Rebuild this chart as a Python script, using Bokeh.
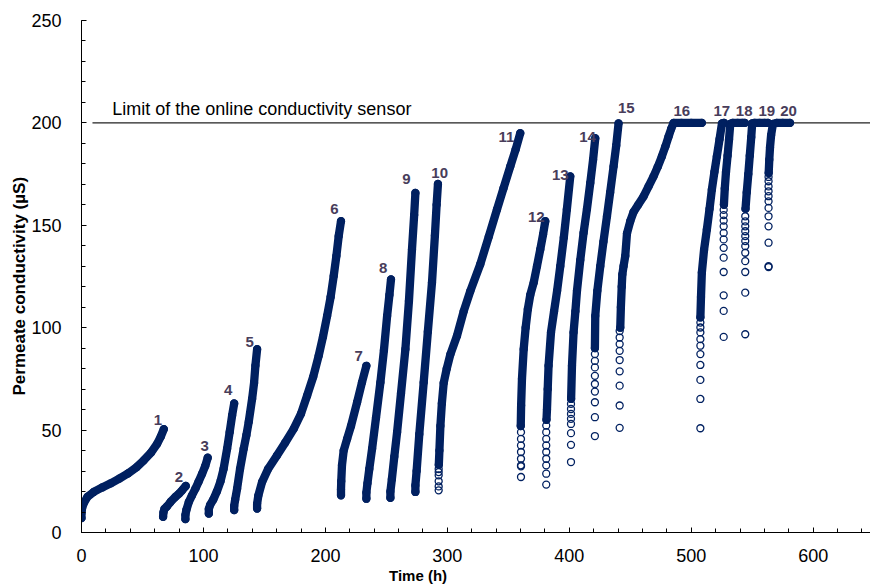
import math
from bokeh.plotting import figure
from bokeh.models import Range1d, SingleIntervalTicker, Title, LinearAxis, FixedTicker
from bokeh.core.properties import value
from bokeh.embed import file_html
from bokeh.resources import INLINE

# ---------------- data ----------------
# dense part of every cycle (time h, conductivity uS)
dense_t = [
    [0, 0, 0.5, 2, 5, 10, 17, 24, 31, 38, 45, 51, 57, 62, 65, 67.5],
    [66.9, 67.2, 68, 70.2, 73, 77, 80, 82.5, 85.5],
    [85.2, 85.2, 86, 88, 90.5, 93.4, 96, 98.9, 101.5, 103.5],
    [104.4, 104.4, 105.5, 108, 111, 114, 116.5, 119.4, 121.5, 123.5, 125.2],
    [125.2, 125.2, 126, 127.6, 130, 133, 135.2, 137.1, 139.9, 141.5, 142.6, 144],
    [144, 144, 145, 148.1, 153, 160.3, 167, 174, 180, 185, 190, 194.5, 198, 201.4, 204.3, 206.8, 209, 210.9, 212.8],
    [212.8, 212.8, 213, 213.6, 215, 217.8, 221, 226, 230, 233.6],
    [233.6, 233.6, 234.5, 236, 238.3, 241.5, 245.1, 248, 250.6, 252.5, 253.8],
    [253.3, 253.3, 254.5, 256.5, 258.8, 262, 265.6, 268.5, 271, 272.8, 273.8],
    [273.8, 273.8, 274.8, 277, 280.6, 284, 287.4, 289.8, 291.2, 292.3],
    [293, 293.5, 294.3, 295.5, 297, 299.5, 302.5, 307.9, 313.4, 318.9, 327, 334, 340.7, 346, 351.6, 356, 359.8],
    [360.2, 360.5, 361.2, 362.6, 364.2, 366, 368, 370.8, 373.5, 376.2, 378.5, 380.3],
    [381.3, 381.7, 382.3, 383, 385, 387.5, 390, 392.6, 395.5, 398, 400.8],
    [401.5, 402.2, 403.5, 405, 406.3, 409, 411.7, 414.5, 417.2, 419.5, 421.3],
    [421, 421.3, 423, 425.4, 428, 430.9, 433.5, 436.3, 438.5, 440.4],
    [441.8, 442.3, 443, 443.5, 444.5, 445.9, 447.3, 450, 452.7, 456.5, 460.9, 465, 469.1, 472.5, 475.9, 478.8, 481.4, 483.5, 485.5, 492, 500, 508.7],
    [507.5, 508, 508.7, 510.5, 512.8, 515, 516.9, 519, 521, 523.2, 525.2, 527],
    [526.8, 527.5, 528.5, 529.8, 531, 532, 534, 538, 542, 544],
    [544.5, 545.5, 546.8, 548, 549.2, 550, 552, 556, 560, 563],
    [563.5, 564, 564.6, 565.5, 567, 570, 575, 581],
]
dense_y = [
    [7, 9.5, 12, 14.5, 17.5, 19.8, 22, 24, 26.3, 28.8, 31.8, 35.2, 39, 43.3, 46.8, 50.5],
    [7.6, 9.8, 11.5, 12.8, 14.9, 17.4, 19, 20.6, 22.7],
    [6.5, 8.5, 11, 14.9, 18, 21.4, 24.8, 28.7, 32.5, 36.5],
    [9.2, 11.5, 13.5, 16, 20, 25, 31, 40.9, 49, 57.1, 63],
    [10.9, 13, 16, 21.4, 31, 40.9, 47.5, 53.9, 65.2, 73, 81.4, 89.5],
    [11.7, 14, 18, 24.7, 31, 37.6, 43.8, 50.6, 58, 66.8, 76, 86.3, 95.5, 105.7, 115, 125.2, 135, 144.7, 152],
    [18.2, 21, 25, 32.8, 40, 45.7, 52, 63.6, 73.3, 81.4],
    [16.5, 19.5, 24, 31, 40.9, 56, 73.3, 89, 105.7, 116, 123.6],
    [16.9, 20, 26, 37, 49, 68, 89.5, 113, 138.2, 155, 165.8],
    [19.8, 23, 30, 48, 73.3, 98, 122, 145, 160, 170.2],
    [33, 40, 52, 63, 73, 80, 87, 96, 108, 118, 131, 144.5, 157.7, 168, 178.7, 187, 195],
    [52, 62, 75, 89.5, 100, 109, 116, 122, 130, 138.2, 145.5, 152],
    [55, 60, 70, 81.4, 97.7, 108, 118, 130, 144, 157.7, 173.9],
    [65.2, 81.4, 97.7, 108, 118, 133, 146.3, 158, 170.7, 182, 192.5],
    [90, 105.7, 118, 130, 142, 154.4, 166, 178.7, 189, 199.8],
    [100, 110, 120, 126, 130, 135, 146, 152, 156.5, 160, 164.1, 169, 173.9, 178.5, 183.6, 188.5, 193.3, 197, 200, 200, 200, 200],
    [105, 115, 126.9, 138, 147.9, 158, 167.4, 176, 183.6, 192, 199.8, 200],
    [160, 168, 176, 184, 192, 199.5, 200, 200, 200, 200],
    [158, 166, 175, 184, 193, 199.8, 200, 200, 200, 200],
    [175.5, 182, 188, 194, 199.5, 200, 200, 200],
]
# sparse start readings of cycles 11-20 (one time per cycle, several values)
sparse_t = [292.9, 360.4, 381.1, 401.4, 421.0, 441.3, 507.5, 526.6, 544.3, 563.4]
sparse_y = [
    [20.6, 22.5, 25, 27.9, 29.5, 31],
    [27.1, 32.3, 32.8, 36, 39.3, 42.5, 45.7, 49],
    [23.4, 28.7, 32.8, 36, 39.3, 42.5, 45.7, 49, 52.2],
    [34.4, 42.8, 48.5, 53, 55.5, 57.9, 60.3, 62.8],
    [47.1, 56.3, 63.6, 68.8, 72.5, 76.5, 80.6, 83.8, 87.1],
    [51.1, 62, 71.7, 78.7, 84.2, 88.7, 92, 95.2, 98.4],
    [50.9, 65.2, 74.5, 81.8, 87.1, 91.2, 94.4, 97.7, 100.1, 102.5],
    [95.5, 108.2, 115.8, 127.2, 134.2, 139, 143.1, 146.3, 149.5, 152.3, 155, 157.5],
    [96.8, 117.1, 127.2, 132.5, 136.6, 139.8, 142.3, 144.7, 147.1, 149.5, 151.9, 154.4],
    [129.6, 130, 141.5, 149.5, 154.4, 158.5, 161.7, 164.2, 166.6, 169, 171.5, 173.6],
]
cycle_labels = [str(i) for i in range(1, 21)]
label_t = [62.6, 79.8, 101.1, 120.2, 138, 207.4, 227.3, 247.3, 266.4, 293.7,
           348.4, 373, 392.6, 415, 446.7, 492.3, 525.1, 543.4, 562, 579.8]
label_y = [55.1, 27.1, 42.2, 69.7, 92.8, 158.2, 86, 129.3, 172.6, 175.5,
           193.3, 154.1, 174.7, 193, 207.2, 206, 206, 206, 206, 206]
limit_value = 200
limit_start = 9
limit_text = "Limit of the online conductivity  sensor"
x_title = "Time (h)"
x_title_at = 276
y_title = "Permeate conductivity (µS)"

# ---------------- styling ----------------
NAVY = "#002060"
LABEL_COLOR = "#483d5b"
FONT = "Liberation Sans"

p = figure(width=870, height=586, output_backend="svg", toolbar_location=None,
           x_range=Range1d(0, 647), y_range=Range1d(0, 250),
           min_border_left=81, min_border_right=0, min_border_top=20, min_border_bottom=52)
p.outline_line_color = None
p.xgrid.visible = False
p.ygrid.visible = False
p.background_fill_color = "white"
p.border_fill_color = "white"

p.xaxis.ticker = SingleIntervalTicker(interval=100, num_minor_ticks=5)
p.yaxis.ticker = SingleIntervalTicker(interval=50, num_minor_ticks=5)
for ax in (p.xaxis, p.yaxis):
    ax.axis_line_color = "black"
    ax.axis_line_width = 1
    ax.major_tick_line_color = "black"
    ax.minor_tick_line_color = "black"
    ax.major_tick_in = 5
    ax.major_tick_out = 0
    ax.minor_tick_in = 4
    ax.minor_tick_out = 0
    ax.major_label_text_font = FONT
    ax.major_label_text_font_size = "18px"
    ax.major_label_text_color = "black"
p.xaxis.major_label_standoff = 16
p.yaxis.major_label_standoff = 20

# x-axis title: a bare second axis whose single tick label is the title
title_axis = LinearAxis(ticker=FixedTicker(ticks=[x_title_at], minor_ticks=[]),
                        major_label_overrides={x_title_at: x_title})
title_axis.axis_line_color = None
title_axis.major_tick_line_color = None
title_axis.minor_tick_line_color = None
title_axis.major_label_standoff = -4
title_axis.major_label_text_font = FONT
title_axis.major_label_text_font_size = "15px"
title_axis.major_label_text_font_style = "bold"
title_axis.major_label_text_color = "black"
p.add_layout(title_axis, "below")

# y-axis title
yt = Title(text=y_title, align="left", offset=137, text_font=FONT, text_font_size="17px",
           text_font_style="bold", text_color="black", standoff=0)
p.add_layout(yt, "left")

# limit line and its text
p.segment(x0=[limit_start], y0=[limit_value], x1=[p.x_range.end], y1=[limit_value],
          line_color="#222222", line_width=1.2)
p.text(x=[25.2], y=[limit_value + 6.7], text=[limit_text], text_font=value(FONT),
       text_font_size="18px", text_color="black", text_baseline="middle", text_align="left")

# dense bands
p.multi_line(xs=dense_t, ys=dense_y, line_color=NAVY, line_width=8.3,
             line_cap="round", line_join="round")
# all readings as open circles
all_t, all_y = [], []
for ts, ys in zip(dense_t, dense_y):
    all_t += ts
    all_y += ys
for t0, ys in zip(sparse_t, sparse_y):
    all_t += [t0] * len(ys)
    all_y += ys
p.scatter(x=all_t, y=all_y, marker="circle", size=7, fill_color=None,
          line_color=NAVY, line_width=1.3)

# cycle numbers
p.text(x=label_t, y=label_y, text=cycle_labels, text_font=value(FONT),
       text_font_size="15px", text_font_style="bold", text_color=LABEL_COLOR,
       text_align="center", text_baseline="middle")

open("out.html", "w").write(file_html(p, INLINE))
